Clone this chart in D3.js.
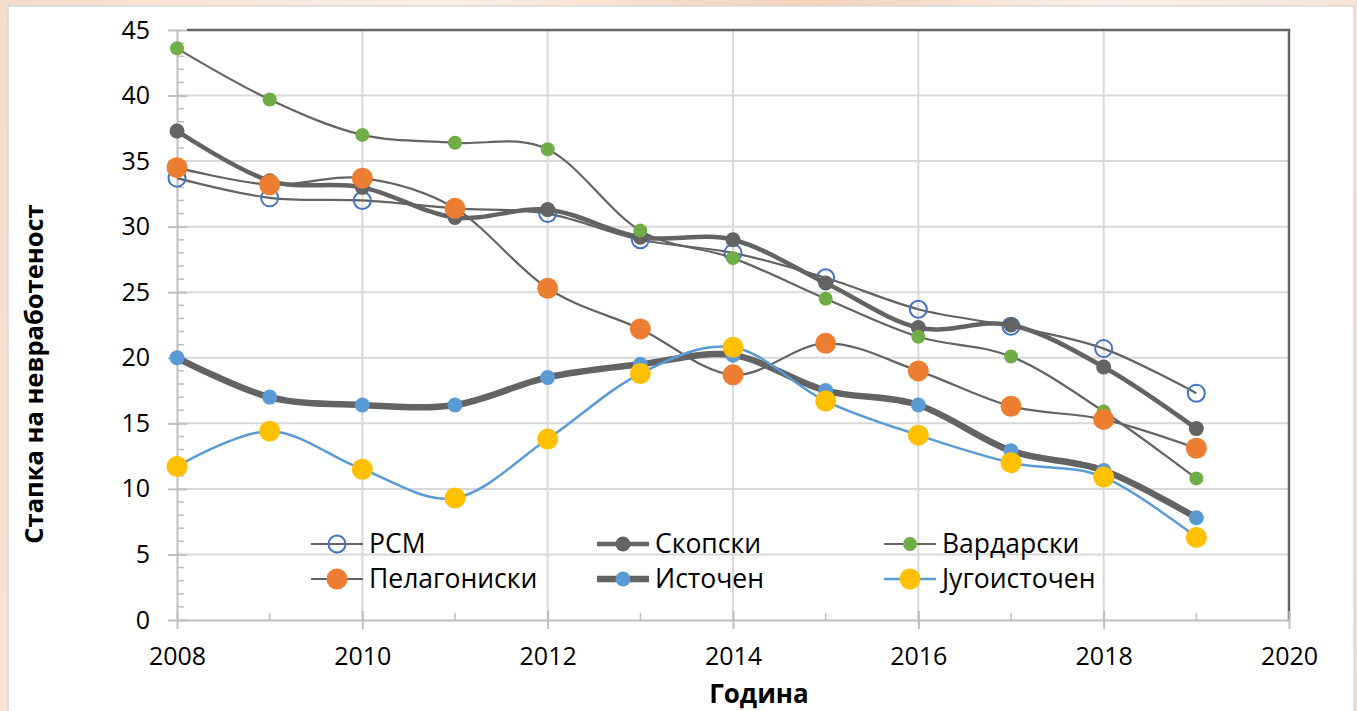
<!DOCTYPE html>
<html>
<head>
<meta charset="utf-8">
<script src="https://cdn.jsdelivr.net/npm/d3@7"></script>
<style>
	html, body { margin: 0; padding: 0; }
	body {
		width: 1357px; height: 711px; overflow: hidden;
		background: linear-gradient(100deg, #f4dccb 0%, #fbefe6 30%, #f2d2ba 55%, #fbf1ea 75%, #f3dccc 100%);
	}
	svg { display: block; font-family: "Open Sans", "Noto Sans", sans-serif; }
</style>
</head>
<body>
<svg id="chart" width="1357" height="711"></svg>
<script>
const years = [2008, 2009, 2010, 2011, 2012, 2013, 2014, 2015, 2016, 2017, 2018, 2019];

const rsm         = [33.7, 32.2, 32.0, 31.4, 31.0, 29.0, 28.0, 26.1, 23.7, 22.4, 20.7, 17.3];
const skopski     = [37.3, 33.5, 33.0, 30.7, 31.3, 29.2, 29.0, 25.7, 22.3, 22.5, 19.3, 14.6];
const vardarski   = [43.6, 39.7, 37.0, 36.4, 35.9, 29.7, 27.6, 24.5, 21.6, 20.1, 15.9, 10.8];
const pelagoniski = [34.5, 33.2, 33.7, 31.4, 25.3, 22.2, 18.7, 21.1, 19.0, 16.3, 15.3, 13.1];
const istochen    = [20.0, 17.0, 16.4, 16.4, 18.5, 19.5, 20.2, 17.5, 16.4, 12.9, 11.4, 7.8];
const jugoistochen = [11.7, 14.4, 11.5, 9.3, 13.8, 18.8, 20.8, 16.7, 14.1, 12.0, 10.9, 6.3];

const seriesNames = ["РСМ", "Скопски", "Вардарски", "Пелагониски", "Источен", "Југоисточен"];
const yTicks = [0, 5, 10, 15, 20, 25, 30, 35, 40, 45];
const xTicks = [2008, 2010, 2012, 2014, 2016, 2018, 2020];

const GREY = "#636363";
// line + marker style per series, same order as seriesNames
const styles = [
	{ line: GREY, width: 2.2, r: 8.5, fill: "none", stroke: "#4472c4", sw: 2 },
	{ line: GREY, width: 4.5, r: 7.5, fill: GREY, stroke: "none", sw: 0 },
	{ line: GREY, width: 2.2, r: 7, fill: "#70ad47", stroke: "none", sw: 0 },
	{ line: GREY, width: 2.2, r: 10.5, fill: "#ed7d31", stroke: "none", sw: 0 },
	{ line: GREY, width: 6.5, r: 7.5, fill: "#5b9bd5", stroke: "none", sw: 0 },
	{ line: "#5b9bd5", width: 2.5, r: 10.5, fill: "#ffc000", stroke: "none", sw: 0 }
];
const data = [rsm, skopski, vardarski, pelagoniski, istochen, jugoistochen];

let svg = d3.select("#chart"),
	MARGINS = { left: 177, right: 1289, top: 30, bottom: 620 },
	xScale = d3.scaleLinear().domain([2008, 2020]).range([MARGINS.left, MARGINS.right]),
	yScale = d3.scaleLinear().domain([0, 45]).range([MARGINS.bottom, MARGINS.top]);

// white chart area
svg.append("rect")
	.attr("x", 8).attr("y", 6).attr("width", 1346).attr("height", 720)
	.attr("fill", "#fff").attr("stroke", "#d9d9d9").attr("stroke-width", 1.5);

// gridlines
svg.append("g").selectAll("line").data(yTicks.slice(1, -1)).join("line")
	.attr("x1", MARGINS.left).attr("x2", MARGINS.right)
	.attr("y1", d => yScale(d)).attr("y2", d => yScale(d))
	.attr("stroke", "#d9d9d9").attr("stroke-width", 2);
svg.append("g").selectAll("line").data(xTicks.slice(1, -1)).join("line")
	.attr("x1", d => xScale(d)).attr("x2", d => xScale(d))
	.attr("y1", MARGINS.top).attr("y2", MARGINS.bottom)
	.attr("stroke", "#d9d9d9").attr("stroke-width", 2);

// plot area border (top + right)
svg.append("path")
	.attr("d", "M" + (MARGINS.left + 10) + "," + MARGINS.top + "H" + MARGINS.right + "V" + MARGINS.bottom)
	.attr("fill", "none").attr("stroke", "#666").attr("stroke-width", 2.5);

// y axis
let yAxis = svg.append("g").attr("transform", "translate(" + MARGINS.left + ",0)");
yAxis.call(d3.axisLeft(yScale).tickValues(yTicks).tickSize(0).tickPadding(27));
yAxis.select(".domain").attr("stroke", "#bfbfbf").attr("stroke-width", 2);
yAxis.selectAll("text").attr("font-size", 25).attr("fill", "#000").attr("font-family", "Open Sans");
yAxis.selectAll(".tick").append("line")
	.attr("x1", -9).attr("x2", 10).attr("stroke", "#bfbfbf").attr("stroke-width", 2);
yAxis.selectAll(".minor").data(d3.range(0, 45).filter(d => d % 5 !== 0)).join("line")
	.attr("class", "minor")
	.attr("x1", 0).attr("x2", 7)
	.attr("y1", d => yScale(d)).attr("y2", d => yScale(d))
	.attr("stroke", "#bfbfbf").attr("stroke-width", 1.5);

// x axis
let xAxis = svg.append("g").attr("transform", "translate(0," + MARGINS.bottom + ")");
xAxis.call(d3.axisBottom(xScale).tickValues(xTicks).tickFormat(d3.format("d")).tickSize(0).tickPadding(27));
xAxis.select(".domain").attr("stroke", "#bfbfbf").attr("stroke-width", 2);
xAxis.selectAll("text").attr("font-size", 25).attr("fill", "#000").attr("font-family", "Open Sans");
xAxis.selectAll(".tick").append("line")
	.attr("y1", -9).attr("y2", 9).attr("stroke", "#bfbfbf").attr("stroke-width", 2);
xAxis.selectAll(".minor").data(d3.range(2009, 2020, 2)).join("line")
	.attr("class", "minor")
	.attr("x1", d => xScale(d)).attr("x2", d => xScale(d))
	.attr("y1", 0).attr("y2", -7)
	.attr("stroke", "#bfbfbf").attr("stroke-width", 1.5);

// axis titles
svg.append("text")
	.attr("x", 759).attr("y", 703)
	.attr("text-anchor", "middle").attr("font-size", 26).attr("font-weight", "bold")
	.text("Година");
svg.append("text")
	.attr("transform", "translate(43," + 374 + ") rotate(-90)")
	.attr("text-anchor", "middle").attr("font-size", 25.5).attr("font-weight", "bold")
	.text("Стапка на невработеност");

// series
let lineGen = d3.line()
	.x((d, i) => xScale(years[i]))
	.y(d => yScale(d))
	.curve(d3.curveCatmullRom.alpha(0));

for (let i = 0; i < data.length; i++) {
	let s = styles[i];
	let g = svg.append("g");
	g.append("path")
		.attr("d", lineGen(data[i]))
		.attr("fill", "none")
		.attr("stroke", s.line)
		.attr("stroke-width", s.width)
		.attr("stroke-linejoin", "round");
	g.selectAll("circle").data(data[i]).join("circle")
		.attr("cx", (d, k) => xScale(years[k]))
		.attr("cy", d => yScale(d))
		.attr("r", s.r)
		.attr("fill", s.fill)
		.attr("stroke", s.stroke)
		.attr("stroke-width", s.sw);
}

// legend
const legendCols = [337, 623, 910];
const legendRows = [544, 579];
let legend = svg.append("g");
for (let i = 0; i < seriesNames.length; i++) {
	let s = styles[i];
	let cx = legendCols[i % 3], cy = legendRows[Math.floor(i / 3)];
	let item = legend.append("g");
	item.append("line")
		.attr("x1", cx - 26).attr("x2", cx + 26)
		.attr("y1", cy).attr("y2", cy)
		.attr("stroke", s.line).attr("stroke-width", s.width);
	item.append("circle")
		.attr("cx", cx).attr("cy", cy).attr("r", s.r)
		.attr("fill", s.fill).attr("stroke", s.stroke).attr("stroke-width", s.sw);
	item.append("text")
		.attr("x", cx + 32).attr("y", cy)
		.attr("dy", "0.35em")
		.attr("font-size", 26.5)
		.text(seriesNames[i]);
}
</script>
</body>
</html>
